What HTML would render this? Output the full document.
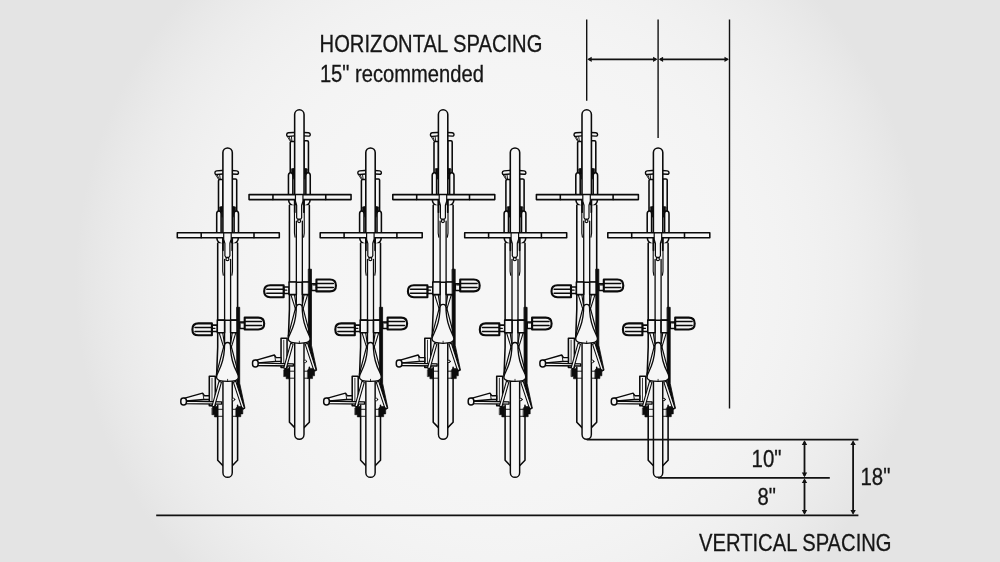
<!DOCTYPE html>
<html lang="en">
<head>
<meta charset="utf-8">
<title>Bike rack spacing</title>
<style>
  html, body { margin: 0; padding: 0; }
  body { width: 1000px; height: 562px; overflow: hidden; background: #e4e4e4; }
  #stage { position: relative; width: 1000px; height: 562px; overflow: hidden;
    background: radial-gradient(circle 425.0px at 500px 281px, rgb(246.0,246.0,246.0) 0%, rgb(245.9,245.9,245.9) 30%, rgb(245.4,245.4,245.4) 45%, rgb(244.5,244.5,244.5) 55%, rgb(243.6,243.6,243.6) 62%, rgb(242.4,242.4,242.4) 68%, rgb(240.9,240.9,240.9) 74%, rgb(238.9,238.9,238.9) 80%, rgb(236.9,236.9,236.9) 85%, rgb(234.4,234.4,234.4) 90%, rgb(232.1,232.1,232.1) 94%, rgb(230.2,230.2,230.2) 97%, rgb(228.0,228.0,228.0) 100%); }
  svg { position: absolute; left: 0; top: 0; display: block; filter: grayscale(1); }
</style>
</head>
<body>
<div id="stage">
<svg width="1000" height="562" viewBox="0 0 1000 562">
<defs>

<g id="bike" fill="#f6f6f6" stroke="#0a0a0a" stroke-width="1.55" stroke-linejoin="round" stroke-linecap="round">
  <!-- rack hook -->
  <path d="M-11,23.6 Q-1,22.4 9.2,23.6 Q10.9,23.9 10.9,25.4 Q10.9,27 9.2,26.9 Q-1,25.9 -10.6,27.2 Q-12.7,27.4 -12.7,25.5 Q-12.7,23.9 -11,23.6 Z" stroke-width="1.4"/>
  <path d="M-12.2,27 L-9.2,31.8 L-7.4,31.8 L-8,27.2 M-10.4,27.4 L-9,30.8" fill="none" stroke-width="0.9"/>
  <!-- fork legs upper -->
  <path d="M-9.1,64 V33.4 Q-9.1,32.2 -7.9,32.2 H-4.6 V64 Z"/>
  <path d="M9.1,64 V32.8 Q9.1,31.6 7.9,31.6 H4.6 V64 Z"/>
  <!-- fork legs lower -->
  <path d="M-10.9,86 V66.4 Q-10.9,63.6 -8.7,63.6 Q-6.5,63.6 -6.5,66.4 V86 Z"/>
  <path d="M10.9,86 V66.4 Q10.9,63.6 8.7,63.6 Q6.5,63.6 6.5,66.4 V86 Z"/>
  <path d="M-7.6,59.6 L-5.2,59.2 L-5.4,70 Q-5.8,64.4 -7.6,63.2 Z M7.6,59.6 L5.2,59.2 L5.4,70 Q5.8,64.4 7.6,63.2 Z" fill="#0c0c0c" stroke-width="0.8"/>
  <!-- fork crown quarter rounds -->
  <path d="M-10.8,90 H-4 V96.6 Q-10.8,96.6 -10.8,90 Z"/>
  <path d="M10.8,90 H4 V96.6 Q10.8,96.6 10.8,90 Z"/>
  <!-- main frame body (outer lines) -->
  <path d="M-9.9,96 V173 H10 V96" />
  <!-- front wheel (drawn over) -->
  <path d="M-4.7,90 V5.3 A4.7,4.7 0 0 1 4.7,5.3 V90"/>
  <!-- top tube -->
  <path d="M-3,112 V196 M3,112 V196" fill="none" stroke-width="1.3"/>
  <path d="M-4.9,90 V124 L-4.3,128 M4.9,90 V124 L4.3,128" fill="none" stroke-width="1.1"/><path d="M-4.6,90 V103 M4.6,90 V103" fill="none" stroke-width="1.7"/>
  <!-- handlebar -->
  <rect x="-50.3" y="85.4" width="102" height="5"/>
  <path d="M-26.4,85.5 V90.4 M26.4,85.5 V90.4" fill="none"/>
  <!-- stem -->
  <path d="M-3.9,85.5 H3.6 V92 L2.3,96 V108.5 L1.4,110 H-1.8 L-2.7,108.5 V96 L-3.9,92 Z" stroke-width="1.2"/>
  <circle cx="-0.2" cy="111.9" r="1.5" stroke-width="1.2"/>
  <!-- pedals -->
  <rect x="-15.6" y="177.8" width="5.4" height="6.4"/><path d="M-15.4,181 H-12.6" fill="none" stroke-width="1.2"/>
  <path d="M-15.7,176.1 H-29.2 Q-35.2,176.1 -35.2,182.1 Q-35.2,188 -29.2,188 H-15.7 Z" stroke-width="2.1"/>
  <path d="M-32.6,180.1 H-15.7 M-32.6,184.1 H-15.7" fill="none" stroke-width="1.5"/>
  <rect x="12.2" y="174.6" width="5" height="6.6"/><path d="M13.6,175.6 H17" fill="none" stroke-width="1.2"/>
  <path d="M17.1,170.3 H30.6 Q36.6,170.3 36.6,176.3 Q36.6,182.2 30.6,182.2 H17.1 Z" stroke-width="2.1"/>
  <path d="M17.1,174.3 H34 M17.1,178.3 H34" fill="none" stroke-width="1.5"/>
  <!-- crank box -->
  <rect x="-10.3" y="172.8" width="7.3" height="12.6"/><rect x="3" y="172.8" width="7.2" height="12.6"/>
  <!-- chain side black bar -->
  <path d="M9.3,160 H12.1 V236 L17.4,261 L15.4,262 L9.3,238 Z" fill="#0c0c0c" stroke-width="0.8"/>
  <!-- rear triangle lines below crank box -->
  <path d="M-9.9,185.4 V200 L-11,229 M10,185.4 V232" fill="none"/>
  <path d="M-8.5,185.4 L-3.4,201.5 M-4.9,185.4 L-3.1,197 M8.3,185.4 L3.2,201.5 M4.7,185.4 L2.9,197" fill="none" stroke-width="1.1"/>
  <path d="M-3.6,198 L-11.2,227 M3.4,198 L10.8,226" fill="none" stroke-width="1.2"/>
  <!-- small box left (lock) -->
  <rect x="-18.3" y="229" width="6" height="29.4"/>
  <path d="M-15.6,231 V257" fill="none" stroke-width="0.8"/>
  <!-- kickstand -->
  <path d="M-44.6,251.4 L-25,245.8 L-23.2,248.4 H-18.3 V252.2 H-24 L-44,254 Z" stroke-width="1.4"/>
  <path d="M-24.6,246.5 L-23.8,251.8" fill="none" stroke-width="0.9"/>
  <path d="M-45.2,253.7 L-6,254.6 V256.8 L-45.2,256.3 Z" stroke-width="1.3"/>
  <rect x="-46.8" y="250.7" width="5.6" height="7" rx="2.7" stroke-width="1.5"/>
  <!-- fender / rack outer -->
  <path d="M-9.9,258 V313 L-4.65,318.4 M10,258 V313 L4.65,318.4" fill="none"/>
  <path d="M-9.9,262 H-4.6 M-9.9,269 H-4.6 M10,262 H4.6 M10,269 H4.6" fill="none" stroke-width="0.9"/>
  <!-- rear wheel -->
  <path d="M-4.65,232 V325.4 A4.65,4.65 0 0 0 4.65,325.4 V232 Z" stroke-width="1.45"/>
  <circle cx="5.9" cy="252.2" r="1.3" stroke-width="0.9"/>
  <!-- seat stays -->
  <path d="M-8.6,234 L-15.6,258.8 L-13.2,259.6 L-6.2,235 Z" stroke-width="1.1"/>
  <path d="M8.2,234 L16.8,260.6 L14.6,261.6 L5.8,235 Z" stroke-width="1.1"/>
  <!-- black blobs -->
  <path d="M-15.4,260.4 L-13.8,259.2 H-10.2 V269.6 H-13.2 V267.4 H-15.4 Z" fill="#0c0c0c" stroke-width="0.6"/>
  <path d="M8.4,260.6 L10,259.2 H13.6 L15.2,260.6 V266.6 H13.2 V269.4 H8.4 Z" fill="#0c0c0c" stroke-width="0.6"/>
  <!-- saddle -->
  <path d="M0,195.2 C-2.2,195.2 -3.1,196.6 -3.1,199 L-3.2,202 C-3.5,207 -4.2,210.4 -5,213.4 C-6.2,217.8 -7.6,221.2 -9,224 C-10.4,226.8 -11.1,228.4 -11.1,229.9 C-11.1,233.2 -6,234.1 0,234.1 C6,234.1 10.8,233.2 10.8,229.9 C10.8,228.4 10.2,226.8 8.8,224 C7.4,221.2 6,217.8 4.8,213.4 C4,210.4 3.3,207 3,202 L2.9,199 C2.9,196.6 2.2,195.2 0,195.2 Z" stroke-width="1.35"/>
  <path d="M0,232 V234" fill="none" stroke-width="0.8"/>
</g>

</defs>
<use href="#bike" x="227.60" y="147.30"/>
<use href="#bike" x="299.35" y="109.20"/>
<use href="#bike" x="370.50" y="147.30"/>
<use href="#bike" x="443.10" y="109.20"/>
<use href="#bike" x="515.00" y="147.30"/>
<use href="#bike" x="586.70" y="109.20"/>
<use href="#bike" x="658.10" y="147.30"/>

<g stroke="#111" stroke-width="1.4" fill="none">
  <line x1="586.70" y1="19.6" x2="586.70" y2="100.8"/>
  <line x1="658.10" y1="19.6" x2="658.10" y2="138"/>
  <line x1="729.50" y1="19.6" x2="729.50" y2="408.5"/>
  <line x1="586.70" y1="439.7" x2="858.4" y2="439.7" stroke-width="1.7"/>
  <line x1="658.10" y1="477.8" x2="829.8" y2="477.8" stroke-width="1.7"/>
  <line x1="156.2" y1="515.3" x2="858.4" y2="515.3" stroke-width="1.8"/>
</g>
<line x1="588.7" y1="59.3" x2="656.1" y2="59.3" stroke="#111" stroke-width="1.7"/><path d="M587.3000000000001,59.3 l4.4,-2.6 v5.2z M657.5,59.3 l-4.4,-2.6 v5.2z" fill="#111"/>
<line x1="660.1" y1="59.3" x2="727.5" y2="59.3" stroke="#111" stroke-width="1.7"/><path d="M658.7,59.3 l4.4,-2.6 v5.2z M728.9,59.3 l-4.4,-2.6 v5.2z" fill="#111"/>
<line x1="804.5" y1="441.7" x2="804.5" y2="475.8" stroke="#111" stroke-width="1.8"/><path d="M804.5,440.3 l-2.7,4.6 h5.4z M804.5,477.2 l-2.7,-4.6 h5.4z" fill="#111"/>
<line x1="804.5" y1="479.8" x2="804.5" y2="513.3" stroke="#111" stroke-width="1.8"/><path d="M804.5,478.40000000000003 l-2.7,4.6 h5.4z M804.5,514.6999999999999 l-2.7,-4.6 h5.4z" fill="#111"/>
<line x1="853.1" y1="441.7" x2="853.1" y2="513.3" stroke="#111" stroke-width="1.8"/><path d="M853.1,440.3 l-2.7,4.6 h5.4z M853.1,514.6999999999999 l-2.7,-4.6 h5.4z" fill="#111"/>


<g font-family="'Liberation Sans', sans-serif" fill="#161616" stroke="#161616" stroke-width="0.3">
  <text x="319.6" y="52" font-size="23.2" textLength="222.8" lengthAdjust="spacingAndGlyphs">HORIZONTAL SPACING</text>
  <text x="319.9" y="82" font-size="23.2" textLength="164" lengthAdjust="spacingAndGlyphs">15&quot; recommended</text>
  <text x="751.6" y="466.8" font-size="24" textLength="30" lengthAdjust="spacingAndGlyphs">10&quot;</text>
  <text x="757.6" y="504.8" font-size="24" textLength="18.4" lengthAdjust="spacingAndGlyphs">8&quot;</text>
  <text x="860.4" y="485.3" font-size="24" textLength="30" lengthAdjust="spacingAndGlyphs">18&quot;</text>
  <text x="699.1" y="551" font-size="23.6" textLength="192.4" lengthAdjust="spacingAndGlyphs">VERTICAL SPACING</text>
</g>

</svg>
</div>
</body>
</html>
